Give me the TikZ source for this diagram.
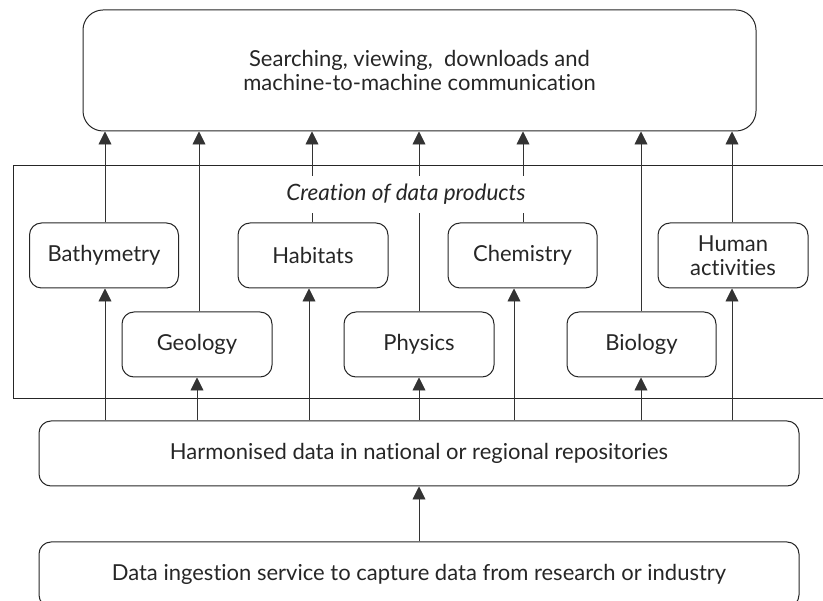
\documentclass[tikz,border=0pt]{standalone}
\usepackage{fontspec}
\setmainfont{Lato}[Ligatures=NoCommon]
\usetikzlibrary{arrows.meta,calc}
\begin{document}
\begin{tikzpicture}[x=1pt,y=-1pt,
  every node/.style={font=\fontsize{22}{24}\selectfont, text=black!85},
  box/.style={draw=black!85, line width=1pt, rounded corners=12pt, minimum width=149pt, minimum height=65pt, align=center, inner sep=0pt},
  bigbox/.style={box, minimum width=760pt},
  arr/.style={draw=black!80, line width=0.9pt, -{Triangle[length=13pt,width=13pt]}},
  ln/.style={draw=black!80, line width=0.9pt}]
\useasboundingbox (0,0) rectangle (823,601);
\clip (0,0) rectangle (823,601);
% frame
\draw[line width=0.9pt, draw=black!85] (13,165) rectangle (840,398);
% nodes
\node[box, minimum width=673pt, minimum height=121pt, rounded corners=20pt] (top) at (419.5,70.5) {Searching, viewing,\ \ downloads and\\machine-to-machine communication};
\node[box] (bathy) at (104,255.5) {Bathymetry};
\node[box, minimum width=150pt] (geo) at (197,344.5) {Geology};
\node[box, minimum width=150pt] (hab) at (313,255.5) {Habitats};
\node[box, minimum width=150pt] (phys) at (419,344.5) {Physics};
\node[box] (chem) at (522.5,255.5) {Chemistry};
\node[box] (bio) at (641.5,344.5) {Biology};
\node[box, minimum width=150pt] (human) at (733,255.5) {Human\\activities};
\node[bigbox] (harm) at (419,453.5) {Harmonised data in national or regional repositories};
\node[bigbox] (ingest) at (419,574.5) {Data ingestion service to capture data from research or industry};
% arrows up to top box
\draw[arr] ([xshift=1pt]bathy.north) -- ([xshift=1pt]bathy.north |- top.south);
\draw[arr] ([xshift=2pt]geo.north) -- ([xshift=2pt]geo.north |- top.south);
\draw[arr] ([xshift=-1pt]hab.north) -- ([xshift=-1pt]hab.north |- top.south);
\draw[arr] (phys.north) -- (phys.north |- top.south);
\draw[arr] ([xshift=0.5pt]chem.north) -- ([xshift=0.5pt]chem.north |- top.south);
\draw[arr] ([xshift=-0.5pt]bio.north) -- ([xshift=-0.5pt]bio.north |- top.south);
\draw[arr] ([xshift=-1pt]human.north) -- ([xshift=-1pt]human.north |- top.south);
% arrows from harmonised
\draw[arr] ([xshift=1pt]bathy.south |- harm.north) -- ([xshift=1pt]bathy.south);
\draw[arr] (geo.south |- harm.north) -- (geo.south);
\draw[arr] ([xshift=-4pt]hab.south |- harm.north) -- ([xshift=-4pt]hab.south);
\draw[arr] (phys.south |- harm.north) -- (phys.south);
\draw[arr] ([xshift=-8.5pt]chem.south |- harm.north) -- ([xshift=-8.5pt]chem.south);
\draw[arr] ([xshift=-0.5pt]bio.south |- harm.north) -- ([xshift=-0.5pt]bio.south);
\draw[arr] ([xshift=-1pt]human.south |- harm.north) -- ([xshift=-1pt]human.south);
\draw[arr] (ingest.north) -- (harm.south);
% label
\node[fill=white, minimum height=37pt, inner xsep=1pt, font=\fontsize{22.5}{24}\selectfont\itshape] (lab) at (406,194.5) {Creation of data products};
\end{tikzpicture}
\end{document}
